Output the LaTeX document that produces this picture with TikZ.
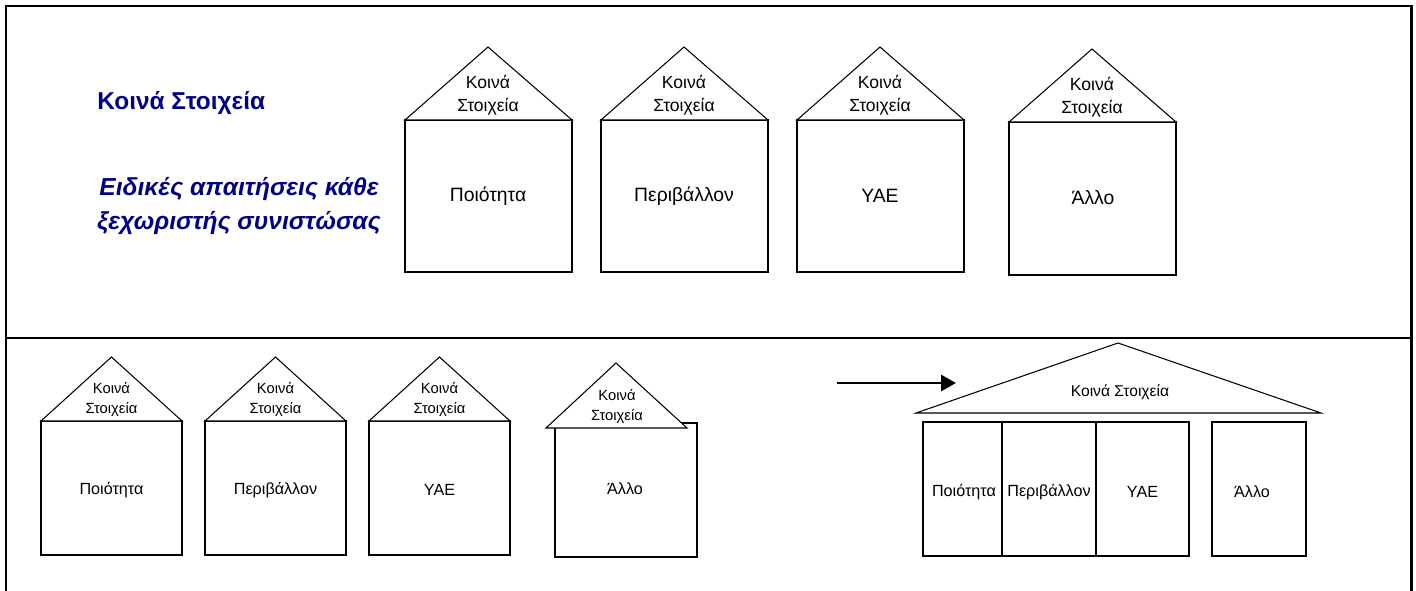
\documentclass[tikz,border=0pt]{standalone}
\usepackage{fontspec}
\setmainfont{Liberation Sans}
\usetikzlibrary{arrows.meta}
\definecolor{titleblue}{RGB}{0,0,135}

\tikzset{
  frame/.style={line width=1.7pt},
  wall/.style={line width=0.6pt, fill=white},
  roof/.style={line width=0.6pt, fill=white},
  titletxt/.style={text=titleblue, font=\fontsize{13.9}{16}\selectfont\bfseries, inner sep=0pt},
  spectxt/.style={text=titleblue, align=center, font=\fontsize{14}{19.4}\selectfont\bfseries\itshape, inner sep=0pt},
  rooftxt/.style={align=center, font=\fontsize{10}{13}\selectfont, inner sep=0pt},
  smallrooftxt/.style={align=center, font=\fontsize{8.4}{11.4}\selectfont, inner sep=0pt},
  boxtxt/.style={font=\fontsize{11}{13}\selectfont, inner sep=0pt},
  smallboxtxt/.style={font=\fontsize{9.2}{11}\selectfont, inner sep=0pt},
  bigarrow/.style={line width=1.7pt, -{Triangle[length=3mm,width=3.2mm]}}
}

\begin{document}
\begin{tikzpicture}[x=0.02cm,y=-0.02cm]
\useasboundingbox (0,0) rectangle (1416,591);

% frame
\draw[frame] (6,640) -- (6,6) -- (1411,6) -- (1411,640);
\draw[frame] (6,338) -- (1411,338);

\node[titletxt, anchor=west] (common) at (97,103) {Κοινά Στοιχεία};
\node[spectxt] (specific) at (239,206) {Ειδικές απαιτήσεις κάθε\\ξεχωριστής συνιστώσας};

% upper row
\draw[wall] (405,120) rectangle (572,272);
\draw[roof] (405,120) -- (488,47) -- (572,120) -- cycle;
\node[rooftxt] (roofA) at (488,95) {Κοινά\\Στοιχεία};
\node[boxtxt] (quality) at (488,196) {Ποιότητα};

\draw[wall] (601,120) rectangle (768,272);
\draw[roof] (601,120) -- (684,47) -- (768,120) -- cycle;
\node[rooftxt] (roofB) at (684,95) {Κοινά\\Στοιχεία};
\node[boxtxt] (environment) at (684,196) {Περιβάλλον};

\draw[wall] (797,120) rectangle (964,272);
\draw[roof] (797,120) -- (880,47) -- (964,120) -- cycle;
\node[rooftxt] (roofC) at (880,95) {Κοινά\\Στοιχεία};
\node[boxtxt] (safety) at (880,196) {ΥΑΕ};

\draw[wall] (1009,122) rectangle (1176,275);
\draw[roof] (1009,122) -- (1092,49) -- (1176,122) -- cycle;
\node[rooftxt] (roofD) at (1092,97) {Κοινά\\Στοιχεία};
\node[boxtxt] (other) at (1093,198) {Άλλο};

% lower row
\draw[wall] (41,421) rectangle (182,555);
\draw[roof] (41,421) -- (111.5,357) -- (182,421) -- cycle;
\node[smallrooftxt] (roofE) at (111.5,399) {Κοινά\\Στοιχεία};
\node[smallboxtxt] (quality2) at (111.5,490) {Ποιότητα};

\draw[wall] (205,421) rectangle (346,555);
\draw[roof] (205,421) -- (275.5,357) -- (346,421) -- cycle;
\node[smallrooftxt] (roofF) at (275.5,399) {Κοινά\\Στοιχεία};
\node[smallboxtxt] (environment2) at (275.5,490) {Περιβάλλον};

\draw[wall] (369,421) rectangle (510,555);
\draw[roof] (369,421) -- (439.5,357) -- (510,421) -- cycle;
\node[smallrooftxt] (roofG) at (439.5,399) {Κοινά\\Στοιχεία};
\node[smallboxtxt] (safety2) at (439.5,490) {ΥΑΕ};

\draw[wall] (555,423) rectangle (697,557);
\draw[roof] (546,428) -- (616,363) -- (687,428) -- cycle;
\node[smallrooftxt] (roofH) at (617,406) {Κοινά\\Στοιχεία};
\node[smallboxtxt] (other2) at (625,489) {Άλλο};

% arrow
\coordinate (arrowStart) at (837,383);
\coordinate (arrowEnd) at (956,383);
\draw[bigarrow] (arrowStart) -- (arrowEnd);

% shared roof
\draw[roof] (916,413) -- (1118,343) -- (1321,413) -- cycle;
\node[font=\fontsize{8.9}{11}\selectfont, inner sep=0pt] (sharedRoof) at (1120,392) {Κοινά Στοιχεία};
\draw[wall] (923,422) rectangle (1002,556);
\draw[wall] (1002,422) rectangle (1096,556);
\draw[wall] (1096,422) rectangle (1189,556);
\draw[wall] (1212,422) rectangle (1306,556);
\node[smallboxtxt] (quality3) at (964,492) {Ποιότητα};
\node[smallboxtxt] (environment3) at (1049,492) {Περιβάλλον};
\node[smallboxtxt] (safety3) at (1142.5,492) {ΥΑΕ};
\node[smallboxtxt] (other3) at (1252,492) {Άλλο};

\end{tikzpicture}
\end{document}
